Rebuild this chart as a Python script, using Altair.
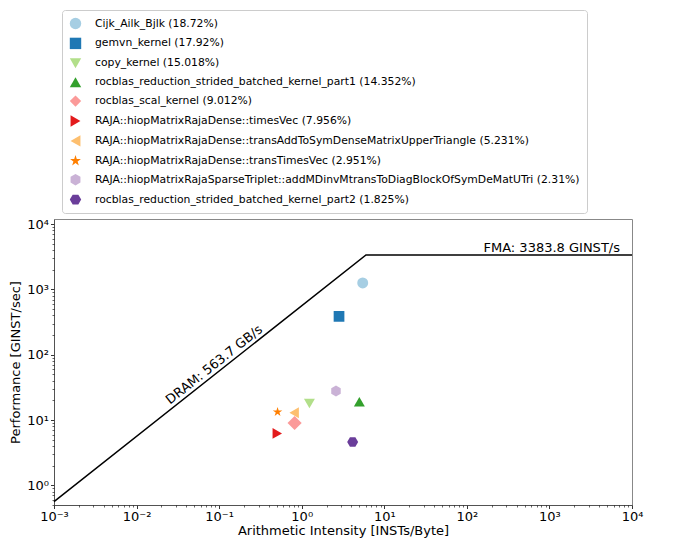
import altair as alt
import pandas as pd

# ---- data ----
names = [
    "Cijk_Ailk_Bjlk (18.72%)",
    "gemvn_kernel (17.92%)",
    "copy_kernel (15.018%)",
    "rocblas_reduction_strided_batched_kernel_part1 (14.352%)",
    "rocblas_scal_kernel (9.012%)",
    "RAJA::hiopMatrixRajaDense::timesVec (7.956%)",
    "RAJA::hiopMatrixRajaDense::transAddToSymDenseMatrixUpperTriangle (5.231%)",
    "RAJA::hiopMatrixRajaDense::transTimesVec (2.951%)",
    "RAJA::hiopMatrixRajaSparseTriplet::addMDinvMtransToDiagBlockOfSymDeMatUTri (2.31%)",
    "rocblas_reduction_strided_batched_kernel_part2 (1.825%)",
]
intensity = [5.48, 2.83, 1.24, 4.99, 0.82, 0.506, 0.81, 0.51, 2.60, 4.14]
performance = [1260, 387, 18.0, 19.1, 9.0, 6.25, 12.9, 13.3, 27.8, 4.6]

colors = ["#a6cee3", "#1f78b4", "#b2df8a", "#33a02c", "#fb9a99",
          "#e31a1c", "#fdbf6f", "#ff7f00", "#cab2d6", "#6a3d9a"]

STAR = ("M0,-1L0.2245,-0.309L0.9511,-0.309L0.3633,0.118L0.5878,0.809L0,0.382"
        "L-0.5878,0.809L-0.3633,0.118L-0.9511,-0.309L-0.2245,-0.309Z")
HEX_POINTY = "M0,-1L0.866,-0.5L0.866,0.5L0,1L-0.866,0.5L-0.866,-0.5Z"
HEX_FLAT = "M1,0L0.5,0.866L-0.5,0.866L-1,0L-0.5,-0.866L0.5,-0.866Z"
shapes = ["circle", "square", "triangle-down", "triangle-up", "diamond",
          "triangle-right", "triangle-left", STAR, HEX_POINTY, HEX_FLAT]
marker_sizes = [120, 115, 120, 120, 200, 120, 120, 100, 120, 120]

dram_bw = 563.7
fma_peak = 3383.8
x_min, x_max = 1e-3, 1e4
y_min, y_max = 0.5, 12000

x_major = [1e-3, 1e-2, 1e-1, 1, 10, 100, 1000, 10000]
x_labels = ["10⁻³", "10⁻²", "10⁻¹", "10⁰", "10¹", "10²", "10³", "10⁴"]
y_major = [1, 10, 100, 1000, 10000]
y_labels = ["10⁰", "10¹", "10²", "10³", "10⁴"]
x_minor = [m * 10.0 ** e for e in range(-3, 4) for m in range(2, 10)]
y_minor = [m * 10.0 ** e for e in range(-1, 4) for m in range(2, 10) if 0.5 <= m * 10.0 ** e <= 12000]

pts = pd.DataFrame({"name": names, "ai": intensity, "perf": performance, "sz": marker_sizes})
ridge = fma_peak / dram_bw
roof = pd.DataFrame({"ai": [x_min, ridge, x_max],
                     "perf": [dram_bw * x_min, fma_peak, fma_peak]})
dram_txt = pd.DataFrame({"ai": [0.1], "perf": [dram_bw * 0.1], "t": ["DRAM: 563.7 GB/s"]})
fma_txt = pd.DataFrame({"ai": [7150], "perf": [fma_peak], "t": ["FMA: 3383.8 GINST/s"]})

xs = alt.Scale(type="log", domain=[x_min, x_max], nice=False)
ys = alt.Scale(type="log", domain=[y_min, y_max], nice=False)

def arr(lbls):
    return "[" + ",".join("'" + s + "'" for s in lbls) + "]"

x_axis_major = alt.Axis(
    values=x_major, orient="bottom", grid=False,
    labelExpr=arr(x_labels) + "[round(log(datum.value)/LN10)+3]",
    labelFontSize=13, labelColor="black", labelFlush=False, labelOverlap=False,
    labelPadding=2, tickSize=3.5, tickWidth=0.8, tickColor="black",
    domainColor="#444", domainWidth=0.8,
    title="Arithmetic Intensity [INSTs/Byte]", titleFontSize=13,
    titleFontWeight="normal", titleColor="black", titlePadding=1)
y_axis_major = alt.Axis(
    values=y_major, orient="left", grid=False,
    labelExpr=arr(y_labels) + "[round(log(datum.value)/LN10)]",
    labelFontSize=13, labelColor="black", labelFlush=False, labelOverlap=False,
    labelPadding=2, tickSize=3.5, tickWidth=0.8, tickColor="black",
    domainColor="#444", domainWidth=0.8,
    title="Performance [GINST/sec]", titleFontSize=13,
    titleFontWeight="normal", titleColor="black", titlePadding=4)
x_axis_minor = alt.Axis(values=x_minor, orient="bottom", grid=False, labels=False,
                        domain=False, tickSize=2, tickWidth=0.6, tickColor="black", title=None)
y_axis_minor = alt.Axis(values=y_minor, orient="left", grid=False, labels=False,
                        domain=False, tickSize=2, tickWidth=0.6, tickColor="black", title=None)

legend = alt.Legend(
    title=None, orient="none", legendX=8, legendY=-209,
    symbolSize=130, symbolStrokeWidth=0, symbolOpacity=1,
    labelFontSize=10.8, labelFont="DejaVu Sans", labelColor="black",
    labelLimit=2000, labelOffset=13.5, rowPadding=7.9, padding=7.5,
    strokeColor="#cccccc", fillColor="white", cornerRadius=3)

roof_line = alt.Chart(roof).mark_line(color="black", strokeWidth=1.5).encode(
    x=alt.X("ai:Q", scale=xs, axis=x_axis_major),
    y=alt.Y("perf:Q", scale=ys, axis=y_axis_major),
)

points = alt.Chart(pts).mark_point(filled=True, opacity=1).encode(
    x=alt.X("ai:Q", scale=xs, axis=x_axis_minor),
    y=alt.Y("perf:Q", scale=ys, axis=y_axis_minor),
    color=alt.Color("name:N", scale=alt.Scale(domain=names, range=colors), legend=legend),
    shape=alt.Shape("name:N", scale=alt.Scale(domain=names, range=shapes), legend=legend),
    size=alt.Size("sz:Q", scale=None, legend=None),
)

dram_label = alt.Chart(dram_txt).mark_text(
    angle=321.7, align="center", baseline="alphabetic", dy=-4,
    fontSize=13, font="DejaVu Sans", color="black").encode(
    x=alt.X("ai:Q", scale=xs, axis=None),
    y=alt.Y("perf:Q", scale=ys, axis=None),
    text="t:N")

fma_label = alt.Chart(fma_txt).mark_text(
    align="right", baseline="alphabetic", dy=-3,
    fontSize=13, font="DejaVu Sans", color="black").encode(
    x=alt.X("ai:Q", scale=xs, axis=None),
    y=alt.Y("perf:Q", scale=ys, axis=None),
    text="t:N")

chart = alt.layer(roof_line, points, dram_label, fma_label).resolve_axis(
    x="independent", y="independent"
).properties(
    width=578, height=286,
    autosize=alt.AutoSizeParams(type="none"),
    padding={"left": 54, "top": 219, "right": 59, "bottom": 34},
).configure(font="DejaVu Sans").configure_view(stroke="#888", strokeWidth=1)

chart.save("out.html", embed_options={"renderer": "svg", "actions": False})
